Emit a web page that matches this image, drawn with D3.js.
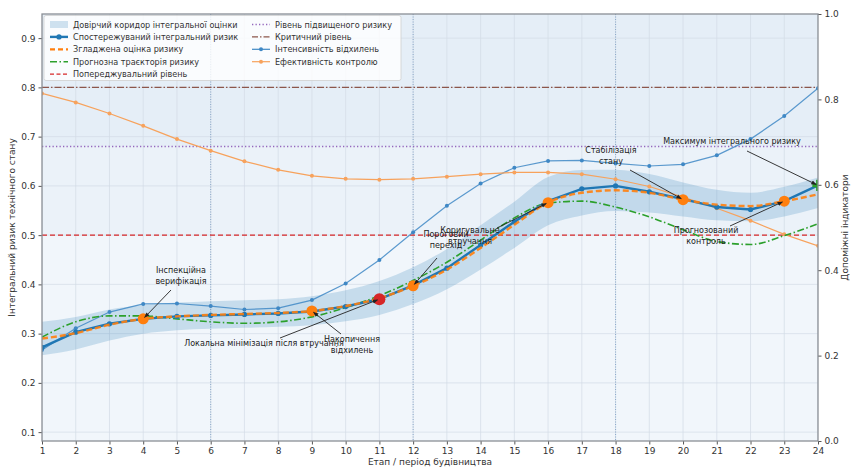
<!DOCTYPE html>
<html>
<head>
<meta charset="utf-8">
<script src="https://cdn.jsdelivr.net/npm/d3@7"></script>
<style>
  body { margin: 0; background: #fff; }
  svg { font-family: "DejaVu Sans", sans-serif; }
</style>
</head>
<body>
<svg id="chart" width="851" height="469"></svg>
<script>
// Etapy budivnytstva
const stages = [1, 2, 3, 4, 5, 6, 7, 8, 9, 10, 11, 12, 13, 14, 15, 16, 17, 18, 19, 20, 21, 22, 23, 24];

// left axis series
const observed = [0.272, 0.303, 0.320, 0.330, 0.335, 0.337, 0.339, 0.341, 0.345, 0.355, 0.370, 0.398, 0.433, 0.480, 0.527, 0.569, 0.594, 0.600, 0.588, 0.573, 0.557, 0.552, 0.569, 0.601];
const smoothed = [0.290, 0.301, 0.318, 0.330, 0.335, 0.338, 0.340, 0.342, 0.346, 0.356, 0.372, 0.397, 0.430, 0.474, 0.521, 0.566, 0.586, 0.591, 0.586, 0.572, 0.562, 0.559, 0.569, 0.583];
const forecast = [0.293, 0.324, 0.336, 0.336, 0.330, 0.324, 0.321, 0.324, 0.334, 0.353, 0.377, 0.408, 0.445, 0.490, 0.535, 0.565, 0.569, 0.557, 0.537, 0.511, 0.487, 0.481, 0.499, 0.523];
const bandLow = [0.256, 0.268, 0.286, 0.300, 0.307, 0.310, 0.312, 0.314, 0.317, 0.325, 0.338, 0.360, 0.390, 0.430, 0.474, 0.520, 0.540, 0.549, 0.546, 0.538, 0.530, 0.528, 0.538, 0.555];
const bandHigh = [0.324, 0.334, 0.349, 0.358, 0.363, 0.366, 0.368, 0.370, 0.376, 0.388, 0.407, 0.435, 0.472, 0.520, 0.568, 0.618, 0.632, 0.633, 0.624, 0.607, 0.592, 0.586, 0.598, 0.617];

// right axis series
const intensity = [0.213, 0.264, 0.302, 0.321, 0.322, 0.316, 0.308, 0.311, 0.330, 0.369, 0.424, 0.489, 0.551, 0.603, 0.640, 0.656, 0.657, 0.650, 0.644, 0.648, 0.669, 0.707, 0.761, 0.826];
const efficiency = [0.814, 0.793, 0.767, 0.738, 0.707, 0.680, 0.655, 0.635, 0.621, 0.614, 0.612, 0.614, 0.619, 0.625, 0.629, 0.629, 0.625, 0.613, 0.596, 0.571, 0.545, 0.516, 0.484, 0.457];

// levels
const warnLevel = 0.5, highLevel = 0.68, critLevel = 0.8;

// key points
const keyStages = [4, 9, 12, 16, 20, 23];
const minStage = 11, maxStage = 24;

const leftTicks = [0.1, 0.2, 0.3, 0.4, 0.5, 0.6, 0.7, 0.8, 0.9];
const rightTicks = [0.0, 0.2, 0.4, 0.6, 0.8, 1.0];
const phaseLines = [6, 12, 18];

const notes = [
  { stage: 4, lines: ["Інспекційна", "верифікація"], tx: 181, ty: 273 },
  { stage: 11, lines: ["Локальна мінімізація після втручання"], tx: 264, ty: 346 },
  { stage: 9, lines: ["Накопичення", "відхилень"], tx: 352, ty: 342 },
  { stage: 12, lines: ["Пороговий", "перехід"], tx: 446, ty: 237 },
  { stage: 16, lines: ["Коригувальне", "втручання"], tx: 470, ty: 233 },
  { stage: 20, lines: ["Стабілізація", "стану"], tx: 611, ty: 153 },
  { stage: 24, lines: ["Максимум інтегрального ризику"], tx: 732, ty: 144 },
  { stage: 23, lines: ["Прогнозований", "контроль"], tx: 706, ty: 233 }
];
// arrow starts (near the text)
const noteFrom = [[171, 290], [280, 338], [341, 334], [437, 258], [497, 228], [630, 170], [747, 151], [730, 226]];

const W = 851, H = 469;
const m = { top: 14, right: 33, bottom: 28, left: 42 };

const svg = d3.select('#chart');

const x = d3.scaleLinear().domain([1, 24]).range([m.left, W - m.right]);
const y = d3.scaleLinear().domain([0.082, 0.949]).range([H - m.bottom, m.top]);
const y2 = d3.scaleLinear().domain([0, 1]).range([H - m.bottom, m.top]);

const blue = '#1f77b4', orange = '#ff7f0e', green = '#2ca02c', red = '#d62728', purple = '#9467bd', brown = '#8c564b';

// defs
const defs = svg.append('defs');
defs.append('clipPath').attr('id', 'plot')
  .append('rect').attr('x', m.left).attr('y', m.top)
  .attr('width', W - m.left - m.right).attr('height', H - m.top - m.bottom);
defs.append('marker').attr('id', 'arr')
  .attr('viewBox', '0 0 10 10').attr('refX', 9).attr('refY', 5)
  .attr('markerWidth', 6).attr('markerHeight', 6).attr('orient', 'auto')
  .append('path').attr('d', 'M0,1 L10,5 L0,9 z').attr('fill', '#222');

const plot = svg.append('g').attr('clip-path', 'url(#plot)');

// background zones
plot.append('rect').attr('x', m.left).attr('y', m.top)
  .attr('width', W - m.left - m.right).attr('height', H - m.top - m.bottom)
  .attr('fill', '#f1f6fb');
plot.append('rect').attr('x', m.left).attr('y', y(highLevel))
  .attr('width', W - m.left - m.right).attr('height', y(warnLevel) - y(highLevel))
  .attr('fill', '#ebf2f9');
plot.append('rect').attr('x', m.left).attr('y', m.top)
  .attr('width', W - m.left - m.right).attr('height', y(highLevel) - m.top)
  .attr('fill', '#e5eef7');

// grid
plot.append('g').selectAll('line').data(stages).join('line')
  .attr('x1', d => x(d)).attr('x2', d => x(d))
  .attr('y1', m.top).attr('y2', H - m.bottom)
  .attr('stroke', '#d3dbe5').attr('stroke-width', 0.7);
plot.append('g').selectAll('line').data(leftTicks).join('line')
  .attr('x1', m.left).attr('x2', W - m.right)
  .attr('y1', d => y(d)).attr('y2', d => y(d))
  .attr('stroke', '#d3dbe5').attr('stroke-width', 0.7);

// phase lines
plot.append('g').selectAll('line').data(phaseLines).join('line')
  .attr('x1', d => x(d)).attr('x2', d => x(d))
  .attr('y1', m.top).attr('y2', H - m.bottom)
  .attr('stroke', '#7f9fc4').attr('stroke-width', 0.9)
  .attr('stroke-dasharray', '1,1.5');

// confidence band
const area = d3.area()
  .x((d, i) => x(stages[i]))
  .y0((d, i) => y(bandLow[i]))
  .y1((d, i) => y(bandHigh[i]))
  .curve(d3.curveMonotoneX);
plot.append('path').datum(stages).attr('d', area)
  .attr('fill', blue).attr('fill-opacity', 0.2);

// level lines
function hline(v, color, dash, w) {
  plot.append('line').attr('x1', m.left).attr('x2', W - m.right)
    .attr('y1', y(v)).attr('y2', y(v))
    .attr('stroke', color).attr('stroke-width', w).attr('stroke-dasharray', dash);
}
hline(warnLevel, red, '5,3', 1.2);
hline(highLevel, purple, '1.3,2.2', 1.4);
hline(critLevel, brown, '7,2,1.5,2', 1.2);

// right axis series
const lineR = d3.line().x((d, i) => x(stages[i])).y(d => y2(d));
plot.append('path').datum(intensity).attr('d', lineR)
  .attr('fill', 'none').attr('stroke', '#3f88c5').attr('stroke-width', 1.2).attr('opacity', 0.85);
plot.append('g').selectAll('circle').data(intensity).join('circle')
  .attr('cx', (d, i) => x(stages[i])).attr('cy', d => y2(d)).attr('r', 2)
  .attr('fill', '#3f88c5');
plot.append('path').datum(efficiency).attr('d', lineR)
  .attr('fill', 'none').attr('stroke', '#f7a25c').attr('stroke-width', 1.2);
plot.append('g').selectAll('circle').data(efficiency).join('circle')
  .attr('cx', (d, i) => x(stages[i])).attr('cy', d => y2(d)).attr('r', 2)
  .attr('fill', '#f7a25c');

// forecast
const smooth = d3.line().x((d, i) => x(stages[i])).y(d => y(d)).curve(d3.curveMonotoneX);
plot.append('path').datum(forecast).attr('d', smooth)
  .attr('fill', 'none').attr('stroke', green).attr('stroke-width', 1.6)
  .attr('stroke-dasharray', '7,2.5,1.5,2.5');

// observed
const lineL = d3.line().x((d, i) => x(stages[i])).y(d => y(d));
plot.append('path').datum(observed).attr('d', lineL)
  .attr('fill', 'none').attr('stroke', blue).attr('stroke-width', 2.4);
plot.append('g').selectAll('circle').data(observed).join('circle')
  .attr('cx', (d, i) => x(stages[i])).attr('cy', d => y(d)).attr('r', 2.6)
  .attr('fill', blue);

// smoothed
plot.append('path').datum(smoothed).attr('d', smooth)
  .attr('fill', 'none').attr('stroke', orange).attr('stroke-width', 2.4)
  .attr('stroke-dasharray', '6,3').attr('opacity', 0.9);

// key points
plot.append('g').selectAll('circle').data(keyStages).join('circle')
  .attr('cx', d => x(d)).attr('cy', d => y(smoothed[d - 1])).attr('r', 5.5)
  .attr('fill', orange);
plot.append('circle').attr('cx', x(minStage)).attr('cy', y(observed[minStage - 1]))
  .attr('r', 6).attr('fill', red);
plot.append('path')
  .attr('d', d3.symbol(d3.symbolCross, 70)())
  .attr('transform', `translate(${x(maxStage)},${y(observed[maxStage - 1])})`)
  .attr('fill', green);

// axes
const gx = svg.append('g').attr('transform', `translate(0,${H - m.bottom})`)
  .call(d3.axisBottom(x).tickValues(stages).tickSize(3.5).tickFormat(d3.format('d')));
const gy = svg.append('g').attr('transform', `translate(${m.left},0)`)
  .call(d3.axisLeft(y).tickValues(leftTicks).tickSize(3.5).tickFormat(d3.format('.1f')));
const gy2 = svg.append('g').attr('transform', `translate(${W - m.right},0)`)
  .call(d3.axisRight(y2).tickValues(rightTicks).tickSize(3.5).tickFormat(d3.format('.1f')));
[gx, gy, gy2].forEach(g => {
  g.select('.domain').remove();
  g.selectAll('line').attr('stroke', '#555');
  g.selectAll('text').attr('font-size', 9).attr('fill', '#333')
    .attr('font-family', '"DejaVu Sans", sans-serif');
});

// frame
svg.append('rect').attr('x', m.left).attr('y', m.top)
  .attr('width', W - m.left - m.right).attr('height', H - m.top - m.bottom)
  .attr('fill', 'none').attr('stroke', '#8a8f96').attr('stroke-width', 1.3);

// axis titles
svg.append('text').attr('x', (m.left + W - m.right) / 2).attr('y', 465)
  .attr('text-anchor', 'middle').attr('font-size', 9).attr('fill', '#333')
  .text('Етап / період будівництва');
svg.append('text').attr('transform', `translate(15,${(m.top + H - m.bottom) / 2}) rotate(-90)`)
  .attr('text-anchor', 'middle').attr('font-size', 9).attr('fill', '#333')
  .text('Інтегральний ризик технічного стану');
svg.append('text').attr('transform', `translate(848,${(m.top + H - m.bottom) / 2}) rotate(-90)`)
  .attr('text-anchor', 'middle').attr('font-size', 9).attr('fill', '#333')
  .text('Допоміжні індикатори');

// annotations
const ann = svg.append('g');
notes.forEach((n, i) => {
  const tgtY = n.stage === 11 ? observed[10] : (n.stage === 24 ? observed[23] : smoothed[n.stage - 1]);
  const [fx, fy] = noteFrom[i];
  const tx = x(n.stage), ty = y(tgtY);
  const dx = tx - fx, dy = ty - fy, len = Math.hypot(dx, dy);
  ann.append('line').attr('x1', fx).attr('y1', fy)
    .attr('x2', tx - dx / len * 2).attr('y2', ty - dy / len * 2)
    .attr('stroke', '#222').attr('stroke-width', 0.9)
    .attr('marker-end', 'url(#arr)');
  const t = ann.append('text').attr('text-anchor', 'middle')
    .attr('font-size', 8).attr('fill', '#222');
  n.lines.forEach((s, k) => {
    t.append('tspan').attr('x', n.tx).attr('y', n.ty + k * 10.5).text(s);
  });
});

// legend
const legendCol1 = [
  { key: 'band', label: 'Довірчий коридор інтегральної оцінки' },
  { key: 'obs', label: 'Спостережуваний інтегральний ризик' },
  { key: 'smooth', label: 'Згладжена оцінка ризику' },
  { key: 'fc', label: 'Прогнозна траєкторія ризику' },
  { key: 'warn', label: 'Попереджувальний рівень' }
];
const legendCol2 = [
  { key: 'high', label: 'Рівень підвищеного ризику' },
  { key: 'crit', label: 'Критичний рівень' },
  { key: 'int', label: 'Інтенсивність відхилень' },
  { key: 'eff', label: 'Ефективність контролю' }
];
const lg = svg.append('g');
lg.append('rect').attr('x', 44).attr('y', 15.5).attr('width', 357).attr('height', 65)
  .attr('rx', 2).attr('fill', '#fff').attr('fill-opacity', 0.8)
  .attr('stroke', '#cfcfcf').attr('stroke-width', 0.8);

function handle(g, key, hx, hy) {
  const x0 = hx, x1 = hx + 18, xm = hx + 9;
  const ln = (c, w, dash) => g.append('line').attr('x1', x0).attr('x2', x1)
    .attr('y1', hy).attr('y2', hy).attr('stroke', c).attr('stroke-width', w)
    .attr('stroke-dasharray', dash);
  if (key === 'band') {
    g.append('rect').attr('x', x0).attr('y', hy - 3.5).attr('width', 18).attr('height', 7)
      .attr('fill', blue).attr('fill-opacity', 0.2);
  } else if (key === 'obs') {
    ln(blue, 2.4, null);
    g.append('circle').attr('cx', xm).attr('cy', hy).attr('r', 2.6).attr('fill', blue);
  } else if (key === 'smooth') ln(orange, 2.2, '5,3');
  else if (key === 'fc') ln(green, 1.6, '7,2.5,1.5,2.5');
  else if (key === 'warn') ln(red, 1.2, '4,2.5');
  else if (key === 'high') ln(purple, 1.4, '1.3,2.2');
  else if (key === 'crit') ln(brown, 1.2, '6,2,1.5,2');
  else if (key === 'int') {
    ln('#3f88c5', 1.2, null);
    g.append('circle').attr('cx', xm).attr('cy', hy).attr('r', 2).attr('fill', '#3f88c5');
  } else if (key === 'eff') {
    ln('#f7a25c', 1.2, null);
    g.append('circle').attr('cx', xm).attr('cy', hy).attr('r', 2).attr('fill', '#f7a25c');
  }
}
function legendColumn(items, lx) {
  items.forEach((it, i) => {
    const ly = 24.5 + i * 12.4;
    handle(lg, it.key, lx, ly);
    lg.append('text').attr('x', lx + 23).attr('y', ly + 3)
      .attr('font-size', 8.1).attr('fill', '#333').text(it.label);
  });
}
legendColumn(legendCol1, 50);
legendColumn(legendCol2, 252);
</script>
</body>
</html>
